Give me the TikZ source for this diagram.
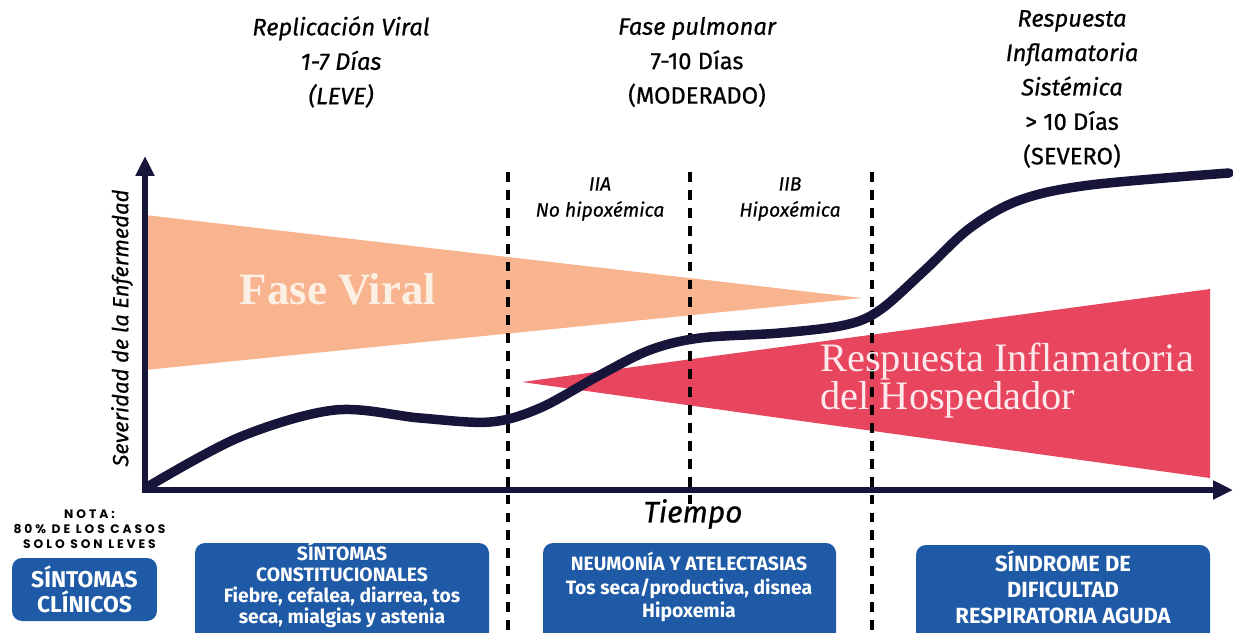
\documentclass[tikz,border=0pt]{standalone}
\usepackage{fontspec}
\setmainfont{Fira Sans}
\newfontfamily\medfont{Fira Sans}[FakeBold=0.6]
\newfontfamily\serifrotulo{Liberation Serif}
\newfontfamily\notafont[LetterSpace=24]{Poppins}
\usetikzlibrary{arrows.meta,positioning}
\definecolor{navyAxis}{HTML}{17153A}
\definecolor{viralPeach}{HTML}{F8B48F}
\definecolor{inflamRed}{HTML}{E8455F}
\definecolor{boxBlue}{HTML}{1F5AA6}
\definecolor{creamText}{HTML}{FCEFE4}
\definecolor{pinkText}{HTML}{FDE9EC}

\begin{document}
\begin{tikzpicture}[
    x=0.02cm, y=-0.02cm,
    font=\fontsize{13.5}{19.6}\selectfont,
    axisline/.style={line width=3.4pt, draw=navyAxis, -{Triangle[length=0.4cm, width=0.36cm]}},
    phaseline/.style={line width=1.8pt, dash pattern=on 5.6pt off 4.6pt},
    curveline/.style={line width=5.4pt, draw=navyAxis, line cap=round},
    toplabel/.style={align=center, font=\medfont\fontsize{13.5}{19.6}\selectfont},
    sublabel/.style={align=center, font=\medfont\fontsize{11}{14.8}\selectfont\itshape},
    bluebox/.style={fill=boxBlue, rounded corners=0.2cm},
    boxtext/.style={align=center, text=white}
]
    \useasboundingbox (0,0) rectangle (1233,632);
    \clip (0,0) rectangle (1233,632);
    \fill[white] (0,0) rectangle (1233,632);

    % Triángulos de las fases
    \fill[viralPeach] (145,215) -- (145,370) -- (862,298) -- cycle;
    \fill[inflamRed] (522,382) -- (1210,289) -- (1210,478) -- cycle;

    % Líneas divisorias
    \coordinate (d1top) at (508,172);
    \coordinate (d1bot) at (508,632);
    \coordinate (d2top) at (690,172);
    \coordinate (d2bot) at (690,505);
    \coordinate (d3top) at (872,172);
    \coordinate (d3bot) at (872,632);
    \draw[phaseline] (d1top) -- (d1bot);
    \draw[phaseline] (d2top) -- (d2bot);
    \draw[phaseline] (d3top) -- (d3bot);

    % Curva de severidad
    \draw[curveline] plot[smooth, tension=0.55] coordinates {
        (149,486) (240,437) (335,410) (420,418) (490,422) (540,408)
        (600,375) (650,350) (700,338) (780,333) (845,325) (880,310)
        (925,270) (970,228) (1020,200) (1090,185) (1229,173)};

    % Ejes
    \coordinate (origin) at (145,493);
    \coordinate (ytip) at (145,156);
    \coordinate (xstart) at (142,490);
    \coordinate (xtip) at (1233,490);
    \draw[axisline] (origin) -- (ytip);
    \draw[axisline] (xstart) -- (xtip);

    \node[rotate=90, font=\medfont\fontsize{12.5}{14}\selectfont\itshape] (severidad) at (122,328) {Severidad de la Enfermedad};
    \node[font=\medfont\fontsize{17}{19}\selectfont\itshape] (tiempo) at (693,514) {Tiempo};

    % Rótulos superiores
    \node[toplabel] (replic) at (341,62) {\itshape Replicación Viral\\\itshape 1-7 Días\\\itshape (LEVE)};
    \node[toplabel] (pulmon) at (697,62) {\itshape Fase pulmonar\\7-10 Días\\(MODERADO)};
    \node[toplabel] (sistem) at (1072,89) {\itshape Respuesta\\\itshape Inflamatoria\\\itshape Sistémica\\> 10 Días\\(SEVERO)};
    \node[sublabel] (iia) at (600,199) {IIA\\No hipoxémica};
    \node[sublabel] (iib) at (790,199) {IIB\\Hipoxémica};

    \node[text=creamText, font=\serifrotulo\bfseries\fontsize{25.5}{28}\selectfont] (faseviral) at (338,289) {Fase Viral};
    \node[anchor=west, align=left, text=pinkText, inner sep=0pt, font=\serifrotulo\fontsize{23}{21.6}\selectfont] (respinf) at (820,381) {Respuesta Inflamatoria\\del Hospedador};

    % Cuadros clínicos
    \node[bluebox, minimum width=2.9cm, minimum height=1.26cm, boxtext, font=\bfseries\fontsize{13}{14.2}\selectfont] (clinicos) at (84.5,589.5) {SÍNTOMAS\\CLÍNICOS};
    \node[above=0.05cm of clinicos, xshift=0.1cm, align=center, font=\notafont\bfseries\fontsize{7}{8.6}\selectfont] (nota) {NOTA:\\80\% DE LOS CASOS\\SOLO SON LEVES};

    \fill[bluebox] (195,543) rectangle (489,650);
    \fill[bluebox] (543,543) rectangle (836,650);
    \fill[bluebox] (916,545) rectangle (1210,650);
    \node[boxtext, font=\bfseries\fontsize{11}{12}\selectfont] (constit) at (342,585) {SÍNTOMAS\\CONSTITUCIONALES\\Fiebre, cefalea, diarrea, tos\\seca, mialgias y astenia};
    \node[boxtext, font=\bfseries\fontsize{11}{13.6}\selectfont] (neumonia) at (689,587) {NEUMONÍA Y ATELECTASIAS\\Tos seca/productiva, disnea\\Hipoxemia};
    \node[boxtext, font=\bfseries\fontsize{12.5}{14.8}\selectfont] (sdra) at (1063,587) {SÍNDROME DE\\DIFICULTAD\\RESPIRATORIA AGUDA};
\end{tikzpicture}
\end{document}
